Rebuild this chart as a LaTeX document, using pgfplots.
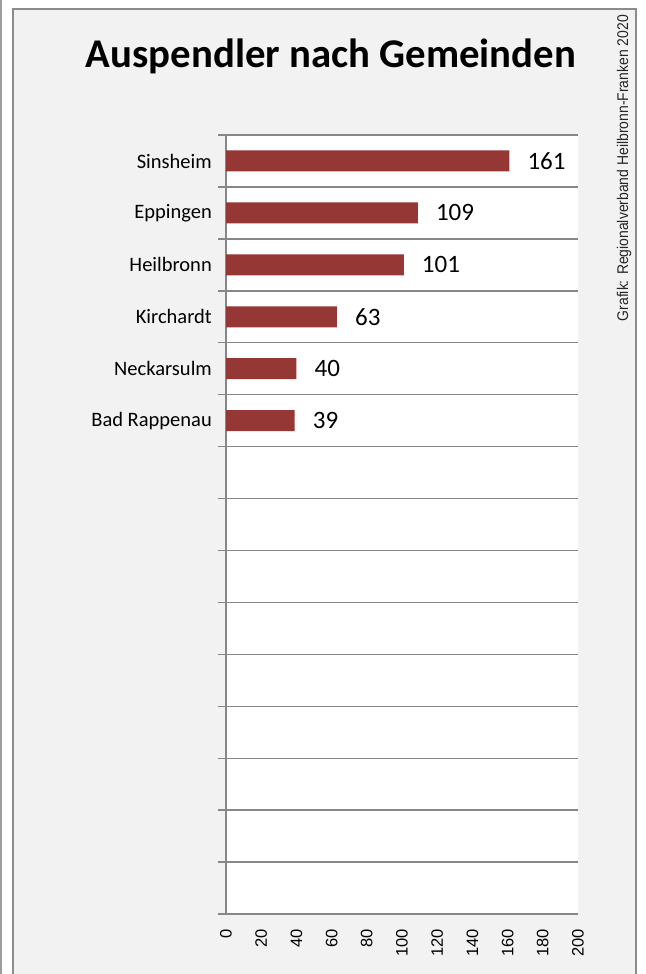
\documentclass[border=0pt]{standalone}
\usepackage{pgfplots}
\pgfplotsset{compat=1.18}
\usepackage{fontspec}
\setmainfont{Carlito}
\newfontfamily\arialf{Liberation Sans}

\definecolor{bg}{HTML}{F2F2F2}
\definecolor{frame}{HTML}{8C8C8C}
\definecolor{gridc}{HTML}{878787}
\definecolor{barred}{HTML}{953735}

\begin{document}
\begin{tikzpicture}
\path[use as bounding box] (0,0) rectangle (646bp,-974bp);
% outer lines and panel
\fill[white] (0,0) rectangle (646bp,-974bp);
\fill[frame!85] (0,0) rectangle (2bp,-974bp);
\fill[bg] (12bp,-8bp) rectangle (636bp,-974bp);
\draw[frame, line width=2bp] (12.5bp,-974bp) -- (12.5bp,-8.5bp) -- (635.5bp,-8.5bp) -- (635.5bp,-974bp);

\node[anchor=base, font=\bfseries\fontsize{40.8bp}{48bp}\selectfont, inner sep=0pt]
  at (331bp,-67bp) {Auspendler nach Gemeinden};
\node[anchor=base east, rotate=90, xscale=0.9, inner sep=0pt, font=\arialf\fontsize{15.5bp}{18bp}\selectfont, text=black!85]
  at (628bp,-15bp) {Grafik: Regionalverband Heilbronn-Franken 2020};

\begin{axis}[
    at={(226bp,-135bp)}, anchor=north west,
    scale only axis,
    width=352bp, height=779bp,
    xmin=0, xmax=200,
    ymin=-0.5, ymax=14.5,
    y dir=reverse,
    axis background/.style={fill=white},
    axis x line*=bottom, axis y line*=left,
    axis line style={gridc, line width=1.4bp, -},
    xtick={0,20,...,200},
    ytick={0,1,2,3,4,5},
    yticklabels={Sinsheim,Eppingen,Heilbronn,Kirchardt,Neckarsulm,Bad Rappenau},
    minor ytick={-0.5,0.5,...,14.5},
    yminorgrids,
    minor grid style={gridc, line width=1.4bp},
    tick align=outside,
    major tick length=0pt,
    minor tick length=8bp,
    minor tick style={gridc, line width=1.4bp},
    /pgf/number format/assume math mode=true,
    xticklabel style={yshift=-15bp, rotate=90, anchor=east, inner sep=0pt,
        font=\arialf\fontsize{16.5bp}{18bp}\selectfont},
    yticklabel style={anchor=east, inner sep=0pt, xshift=-14bp,
        font=\fontsize{20.5bp}{24bp}\selectfont},
    point meta=x,
    nodes near coords,
    every node near coord/.append style={anchor=west, inner sep=0pt, xshift=18bp,
        font=\fontsize{25bp}{30bp}\selectfont, text=black},
]
\addplot[xbar, fill=barred, draw=none, bar width=21bp]
    coordinates {(161,0) (109,1) (101,2) (63,3) (40,4) (39,5)};
\end{axis}
\end{tikzpicture}
\end{document}
